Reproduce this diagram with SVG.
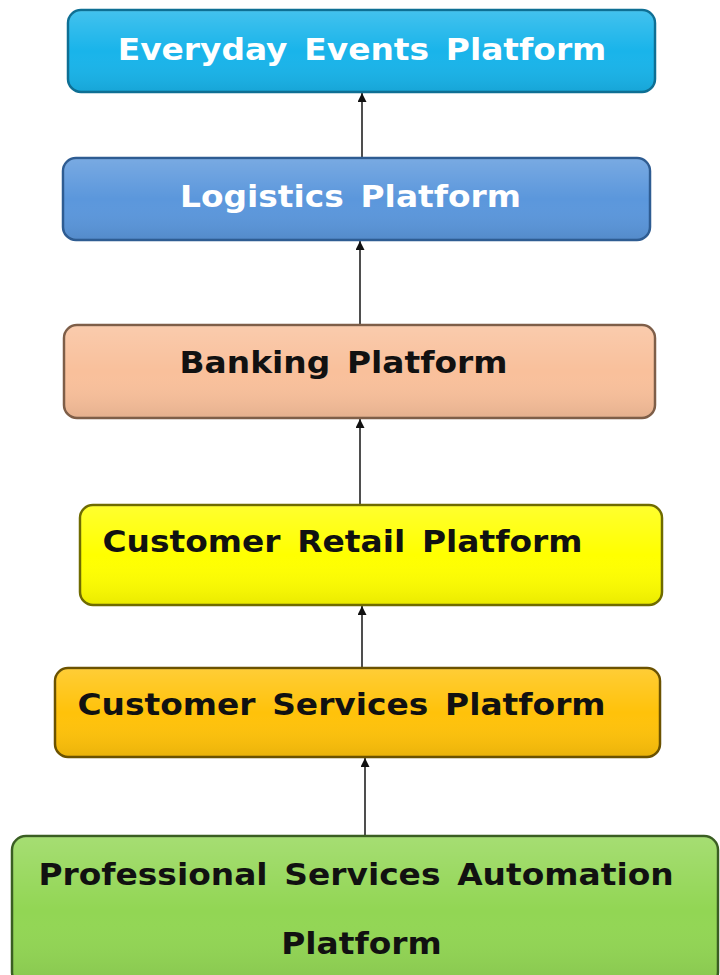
<svg xmlns="http://www.w3.org/2000/svg" width="720" height="975" viewBox="0 0 720 975">
<defs>
<linearGradient id="gloss" x1="0" y1="0" x2="0" y2="1">
<stop offset="0" stop-color="#ffffff" stop-opacity="0.18"/>
<stop offset="0.5" stop-color="#ffffff" stop-opacity="0"/>
<stop offset="1" stop-color="#000000" stop-opacity="0.08"/>
</linearGradient>
<marker id="arr" viewBox="0 0 10 10" refX="10" refY="5" markerWidth="9" markerHeight="9" markerUnits="userSpaceOnUse" orient="auto">
<path d="M0,0 L10,5 L0,10 z" fill="#111"/>
</marker>
</defs>
<style>
.box{stroke-width:2.5}
.gl{fill:url(#gloss);stroke:none}
.t{font-family:"DejaVu Sans","Liberation Sans",sans-serif;font-weight:bold;font-size:31px;word-spacing:5px;text-anchor:middle}
.w{fill:#ffffff}
.k{fill:#111111}
.c{stroke:#222;stroke-width:1.6;fill:none;marker-end:url(#arr)}
</style>
<rect width="720" height="975" fill="#ffffff"/>
<g id="connectors">
<line class="c" x1="362" y1="158" x2="362" y2="93"/>
<line class="c" x1="360" y1="325" x2="360" y2="241"/>
<line class="c" x1="360" y1="505" x2="360" y2="419"/>
<line class="c" x1="362" y1="668" x2="362" y2="606"/>
<line class="c" x1="365" y1="838" x2="365" y2="758"/>
</g>
<g id="everyday">
<rect class="box" x="68" y="10" width="587" height="82" rx="13" fill="#19B4EA" stroke="#0E6F94"/>
<rect class="gl" x="69" y="11" width="585" height="80" rx="12"/>
<text class="t w" transform="matrix(1.06 0 0 1 362 0)" x="0" y="60">Everyday Events Platform</text>
</g>
<g id="logistics">
<rect class="box" x="63" y="158" width="587" height="82" rx="13" fill="#5B97DC" stroke="#2E5C92"/>
<rect class="gl" x="64" y="159" width="585" height="80" rx="12"/>
<text class="t w" transform="matrix(1.06 0 0 1 350.5 0)" x="0" y="207">Logistics Platform</text>
</g>
<g id="banking">
<rect class="box" x="64" y="325" width="591" height="93" rx="13" fill="#F9C09B" stroke="#7E5E48"/>
<rect class="gl" x="65" y="326" width="589" height="91" rx="12"/>
<text class="t k" transform="matrix(1.06 0 0 1 343.5 0)" x="0" y="373">Banking Platform</text>
</g>
<g id="retail">
<rect class="box" x="80" y="505" width="582" height="100" rx="13" fill="#FFFF00" stroke="#6F6B00"/>
<rect class="gl" x="81" y="506" width="580" height="98" rx="12"/>
<text class="t k" transform="matrix(1.06 0 0 1 342.5 0)" x="0" y="552">Customer Retail Platform</text>
</g>
<g id="services">
<rect class="box" x="55" y="668" width="605" height="89" rx="13" fill="#FFC20A" stroke="#6B5200"/>
<rect class="gl" x="56" y="669" width="603" height="87" rx="12"/>
<text class="t k" transform="matrix(1.06 0 0 1 341.5 0)" x="0" y="715">Customer Services Platform</text>
</g>
<g id="professional">
<rect class="box" x="12" y="836" width="706" height="150" rx="14" fill="#92D654" stroke="#3A5E22"/>
<rect class="gl" x="13" y="837" width="704" height="148" rx="13"/>
<text class="t k" transform="matrix(1.06 0 0 1 356 0)" x="0" y="885">Professional Services Automation</text>
<text class="t k" transform="matrix(1.06 0 0 1 361.5 0)" x="0" y="954">Platform</text>
</g>
</svg>
